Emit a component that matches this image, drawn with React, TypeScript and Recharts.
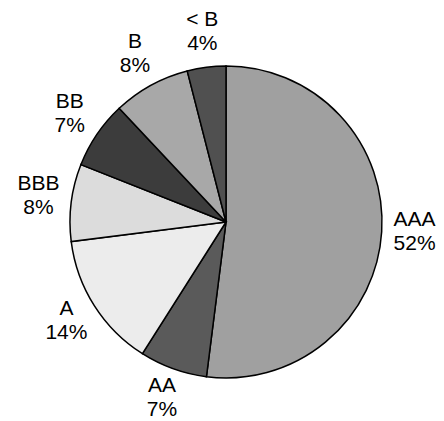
import React from "react"
import { PieChart, Pie, Cell } from "recharts"

const ratings = ["AAA", "AA", "A", "BBB", "BB", "B", "< B"]
const shares = [52, 7, 14, 8, 7, 8, 4]
const fills = ["#a0a0a0", "#5a5a5a", "#ececec", "#dcdcdc", "#3c3c3c", "#a8a8a8", "#505050"]

const data = ratings.map((name, i) => ({ name, value: shares[i] }))

const RADIAN = Math.PI / 180

const renderLabel = (props: any) => {
  const { cx, cy, midAngle, index } = props
  const r = 189
  const x = cx + r * Math.cos(-midAngle * RADIAN)
  const y = cy + r * Math.sin(-midAngle * RADIAN)
  return (
    <text
      x={x}
      y={y}
      textAnchor="middle"
      fill="#000"
      fontSize={21}
      fontFamily="'Liberation Sans', Arial, sans-serif"
    >
      <tspan x={x} y={y - 8}>
        {ratings[index]}
      </tspan>
      <tspan x={x} y={y + 16}>
        {`${shares[index]}%`}
      </tspan>
    </text>
  )
}

export default function App() {
  return (
    <div style={{ position: "absolute", left: 0, top: 0, background: "#fff" }}>
      <PieChart width={444} height={421} margin={{ top: 0, right: 0, bottom: 0, left: 0 }}>
        <Pie
          data={data}
          dataKey="value"
          nameKey="name"
          cx={226}
          cy={222}
          outerRadius={156}
          startAngle={90}
          endAngle={-270}
          stroke="#000"
          strokeWidth={1.5}
          label={renderLabel}
          labelLine={false}
          isAnimationActive={false}
        >
          {data.map((d, i) => (
            <Cell key={d.name} fill={fills[i]} />
          ))}
        </Pie>
      </PieChart>
    </div>
  )
}
